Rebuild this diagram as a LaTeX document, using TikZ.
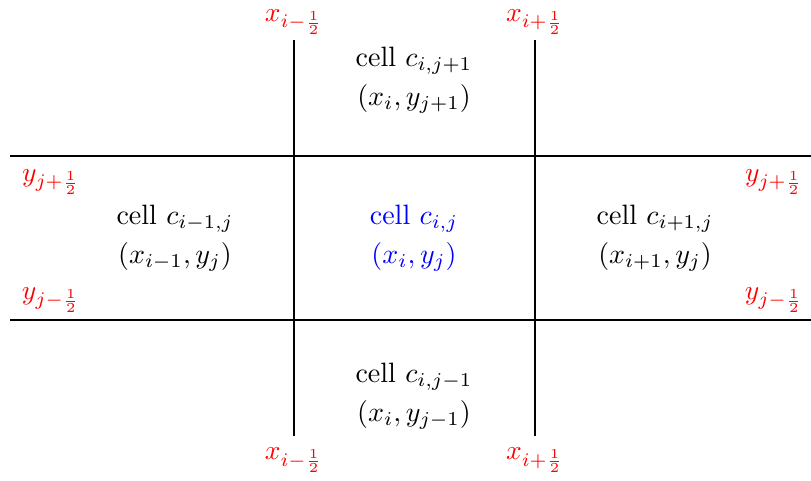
\documentclass[tikz,border=0pt]{standalone}
\usepackage{amsmath}

\begin{document}
\begin{tikzpicture}[x=1pt, y=-1pt, font=\fontsize{10}{14}\selectfont, line width=2.6pt,
                    cell/.style={align=center, inner sep=0.5pt, transform shape, scale=2.8},
                    face/.style={text=red, inner sep=0.5pt, transform shape, scale=2.75}]
                    \useasboundingbox (0,0) rectangle (811,481);

                    % grid lines
                    \coordinate (top left) at (294,40);
                    \coordinate (bot left) at (294,436);
                    \coordinate (top right) at (535,40);
                    \coordinate (bot right) at (535,436);
                    \coordinate (north west) at (10,156);
                    \coordinate (north east) at (811,156);
                    \coordinate (south west) at (10,320);
                    \coordinate (south east) at (811,320);
                    \draw (top left) -- (bot left);
                    \draw (top right) -- (bot right);
                    \draw (north west) -- (north east);
                    \draw (south west) -- (south east);

                    % cells
                    \node[cell, text=blue] (cij) at (414,238) {cell $c_{i,j}$\\$(x_i, y_j)$};
                    \node[cell] (cup) at (414,80) {cell $c_{i,j+1}$\\$(x_i, y_{j+1})$};
                    \node[cell] (cdown) at (414,396) {cell $c_{i,j-1}$\\$(x_i, y_{j-1})$};
                    \node[cell] (cleft) at (175,238) {cell $c_{i-1,j}$\\$(x_{i-1}, y_j)$};
                    \node[cell] (cright) at (655,238) {cell $c_{i+1,j}$\\$(x_{i+1}, y_j)$};

                    % faces
                    \node[face] (xl top) at (294,22) {$x_{i-\frac{1}{2}}$};
                    \node[face] (xr top) at (535,22) {$x_{i+\frac{1}{2}}$};
                    \node[face] (xl bot) at (294,460) {$x_{i-\frac{1}{2}}$};
                    \node[face] (xr bot) at (535,460) {$x_{i+\frac{1}{2}}$};
                    \node[face] (yu left) at (51,182) {$y_{j+\frac{1}{2}}$};
                    \node[face] (yd left) at (51,300) {$y_{j-\frac{1}{2}}$};
                    \node[face] (yu right) at (774,182) {$y_{j+\frac{1}{2}}$};
                    \node[face] (yd right) at (774,300) {$y_{j-\frac{1}{2}}$};
                \end{tikzpicture}
\end{document}
